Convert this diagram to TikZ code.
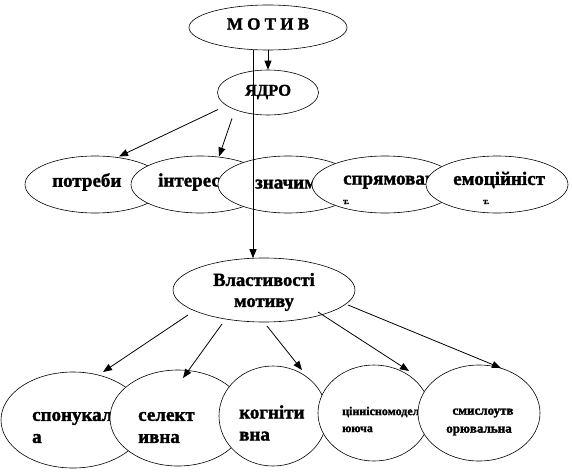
\documentclass[tikz,border=0pt]{standalone}
\usepackage{fontspec}
\setmainfont{Liberation Serif}[BoldFeatures={FakeBold=1.6}]
\usetikzlibrary{shapes.geometric,arrows.meta,calc}
\begin{document}
\begin{tikzpicture}[x=1pt,y=-1pt,
 ell/.style={draw, ellipse, fill=white, inner sep=0pt, line width=0.6pt},
 lbl/.style={inner sep=0pt, align=left, anchor=west, font=\fontsize{19}{22}\selectfont\bfseries},
 lblc/.style={inner sep=0pt, align=center, font=\fontsize{18.5}{21}\selectfont\bfseries},
 tiny/.style={inner sep=0pt, anchor=west, font=\fontsize{9}{9}\selectfont\bfseries},
 small/.style={inner sep=0pt, align=left, anchor=west, font=\fontsize{12}{17}\selectfont\bfseries},
 arr/.style={line width=0.8pt, -{Triangle[length=9pt,width=7pt]}}]
\useasboundingbox (0,0) rectangle (572,471);

% top
\node[ell, minimum width=158pt, minimum height=45pt] (motiv) at (268,27.5) {};
\node[lblc, font=\fontsize{17}{20}\selectfont\bfseries] (motivT) at (268,24) {М О Т И В};
\node[ell, minimum width=101pt, minimum height=45pt] (yadro) at (268,92.5) {};
\node[lblc, font=\fontsize{16.5}{20}\selectfont\bfseries] (yadroT) at (268,92) {ЯДРО};

% row 1
\node[ell, minimum width=140pt, minimum height=57pt] (potr) at (95,184.5) {};
\node[lbl] (potrT) at (52,182) {потреби};
\node[ell, minimum width=138pt, minimum height=57pt] (inter) at (200,184.5) {};
\node[lbl] (interT) at (158,182) {інтереси};
\node[ell, minimum width=140pt, minimum height=57pt] (znach) at (288,184.5) {};
\node[lbl] (znachT) at (255,182) {значимість};
\node[ell, minimum width=146pt, minimum height=57pt] (spry) at (385,184.5) {};
\node[lbl] (spryT) at (343,180) {спрямованіст};
\node[tiny] (spryT2) at (343,202) {т.};
\node[ell, minimum width=142pt, minimum height=57pt] (emoc) at (497,184.5) {};
\node[lbl] (emocT) at (453,180) {емоційніст};
\node[tiny] (emocT2) at (483,202) {т.};

% middle
\node[ell, minimum width=182pt, minimum height=64pt] (vlast) at (264,290) {};
\node[lblc] (vlastT) at (264,292) {Властивості\\мотиву};

% row 2
\node[ell, minimum width=144pt, minimum height=96pt] (spon) at (73,420) {};
\node[lbl] (sponT) at (32,427.5) {спонукальн\\а};
\node[ell, minimum width=136pt, minimum height=96pt] (sel) at (178,418) {};
\node[lbl] (selT) at (138,427.5) {селект\\ивна};
\node[ell, minimum width=108pt, minimum height=100pt] (kogn) at (273,416) {};
\node[lbl] (kognT) at (239,423) {когніти\\вна};
\node[ell, minimum width=112pt, minimum height=96pt] (cinn) at (374,413) {};
\node[small] (cinnT) at (342,419.5) {ціннісномодел\\ююча};
\node[ell, minimum width=122pt, minimum height=96pt] (smysl) at (479,413) {};
\node[inner sep=0pt, align=center, font=\fontsize{13}{18}\selectfont\bfseries] (smyslT) at (479,422) {\hspace*{8pt}смислоутв\\орювальна};

% connectors
\draw[arr] (motiv.south) -- (yadro.north);
\draw[arr] ($(yadro.center)+(-50,17)$) -- ($(potr.center)+(24,-28)$);
\draw[arr] ($(yadro.center)+(-36,26)$) -- ($(inter.center)+(19,-28)$);

\draw[arr] ($(vlast.center)+(-76,25)$) -- ($(spon.center)+(30,-48)$);
\draw[arr] ($(vlast.center)+(-42,34)$) -- ($(sel.center)+(5,-40)$);
\draw[arr] ($(vlast.center)+(3,36)$) -- ($(kogn.center)+(29,-46)$);
\draw[arr] ($(vlast.center)+(54,22)$) -- ($(cinn.center)+(35,-42)$);
\draw[arr] ($(vlast.center)+(84,15)$) -- ($(smysl.center)+(22,-45)$);

\draw[arr, line width=1pt] ($(motiv.center)+(-15,22)$) -- ($(vlast.center)+(-11,-31.8)$);
\end{tikzpicture}
\end{document}
